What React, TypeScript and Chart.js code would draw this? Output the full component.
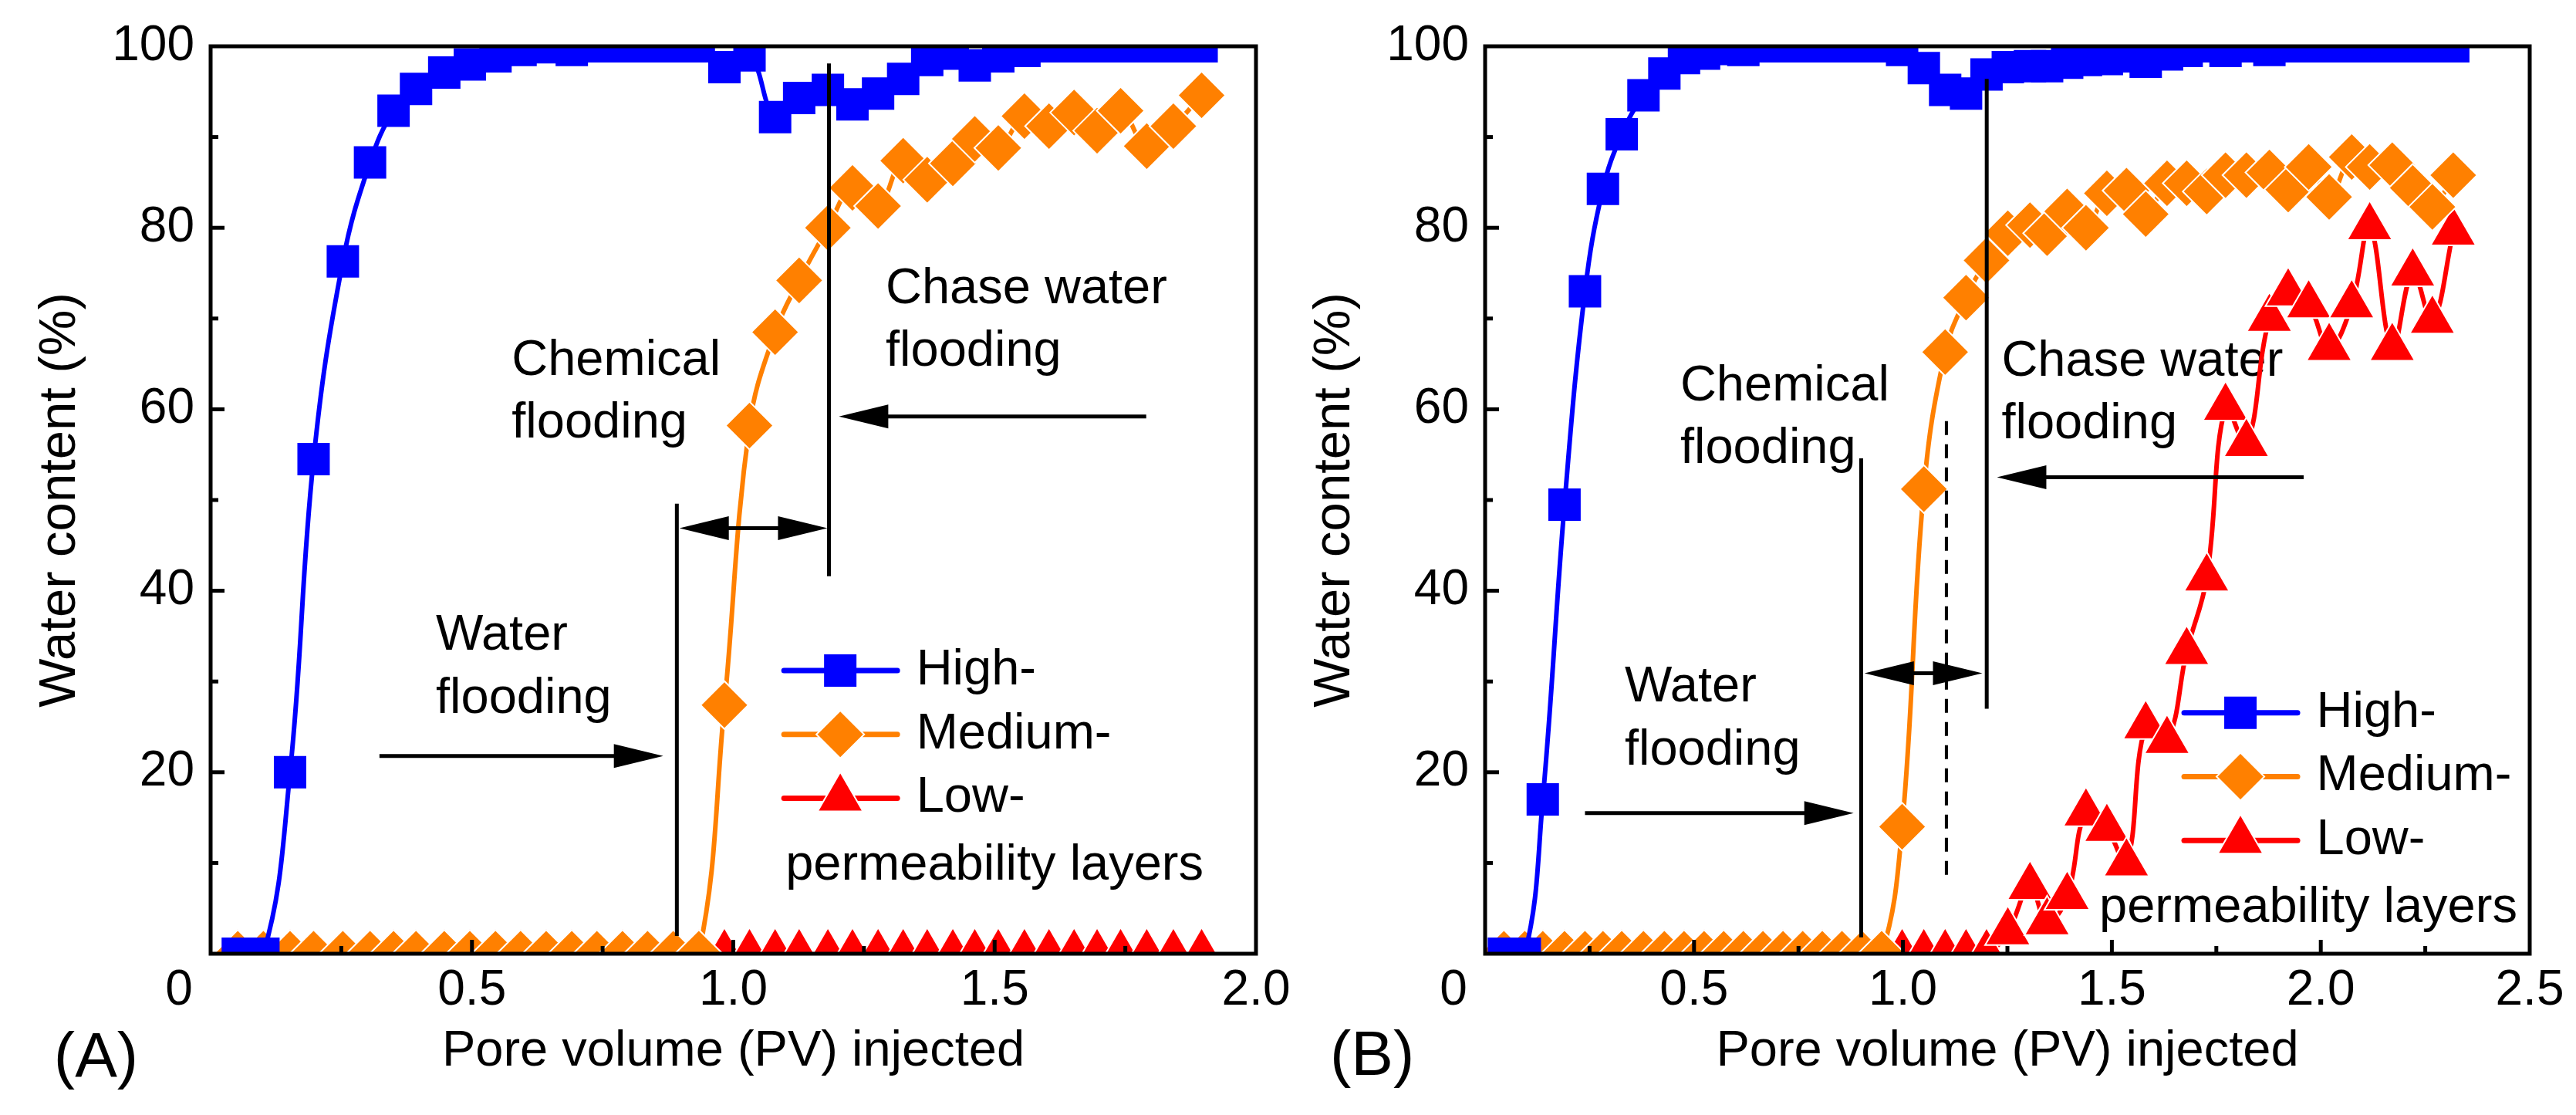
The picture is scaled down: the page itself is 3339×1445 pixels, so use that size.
import React, { useEffect, useRef } from 'react';
import { Chart, registerables } from 'chart.js';

Chart.register(...registerables);

const FONT = '"Liberation Sans", Arial, Helvetica, sans-serif';
const BLUE = '#0000FF';
const ORANGE = '#FF8000';
const RED = '#FF0000';

// ---------------- data ----------------
const SERIES_NAMES = ['High-', 'Medium-', 'Low-'];
const LEGEND_CAPTION = 'permeability layers';
const PANEL_LABELS = ['(A)', '(B)'];
const X_TITLE = 'Pore volume (PV) injected';
const Y_TITLE = 'Water content (%)';
const Y_TICKS = [0, 20, 40, 60, 80, 100];
const X_TICKS_A = [0, 0.5, 1.0, 1.5, 2.0];
const X_TICKS_B = [0, 0.5, 1.0, 1.5, 2.0, 2.5];

const PV_A = [0.052, 0.101, 0.152, 0.197, 0.253, 0.305, 0.350, 0.393, 0.447, 0.496, 0.545, 0.593, 0.642, 0.691, 0.739, 0.788, 0.836, 0.885, 0.934, 0.983, 1.031, 1.080, 1.126, 1.181, 1.228, 1.277, 1.325, 1.371, 1.420, 1.462, 1.507, 1.557, 1.604, 1.652, 1.696, 1.741, 1.791, 1.842, 1.896];
const HIGH_A = [0, 0, 20.0, 54.5, 76.3, 87.2, 92.9, 95.3, 97.1, 98.0, 98.9, 99.6, 99.9, 99.6, 100, 100, 100, 100, 100, 97.7, 99.0, 92.2, 94.3, 95.2, 93.6, 94.8, 96.4, 98.5, 99.2, 97.9, 98.9, 99.5, 100, 100, 100, 100, 100, 100, 100];
const MEDIUM_A = [0, 0, 0, 0, 0, 0, 0, 0, 0, 0, 0, 0, 0, 0, 0, 0, 0, 0, 0, 27.4, 58.2, 68.5, 74.2, 80.0, 84.4, 82.4, 87.4, 85.3, 87.1, 89.8, 88.8, 92.3, 91.2, 92.7, 90.7, 92.9, 89.0, 91.2, 94.6];
const LOW_A = [0, 0, 0, 0, 0, 0, 0, 0, 0, 0, 0, 0, 0, 0, 0, 0, 0, 0, 0, 0, 0, 0, 0, 0, 0, 0, 0, 0, 0, 0, 0, 0, 0, 0, 0, 0, 0, 0, 0];

const PV_B = [0.045, 0.095, 0.138, 0.190, 0.239, 0.282, 0.327, 0.379, 0.429, 0.476, 0.524, 0.571, 0.618, 0.665, 0.713, 0.760, 0.807, 0.854, 0.902, 0.949, 0.998, 1.050, 1.101, 1.151, 1.200, 1.251, 1.304, 1.345, 1.393, 1.438, 1.488, 1.535, 1.581, 1.632, 1.679, 1.727, 1.772, 1.822, 1.877, 1.922, 1.971, 2.020, 2.074, 2.117, 2.171, 2.220, 2.267, 2.317];
const HIGH_B = [0, 0, 17.0, 49.5, 73.0, 84.3, 90.3, 94.6, 97.0, 98.7, 99.2, 99.7, 99.6, 100, 100, 100, 100, 100, 100, 100, 99.6, 97.6, 95.2, 94.8, 96.9, 97.7, 97.8, 97.8, 98.2, 98.5, 98.6, 98.9, 98.3, 99.1, 99.5, 100, 99.5, 100, 99.6, 100, 100, 100, 100, 100, 100, 100, 100, 100];
const MEDIUM_B = [0, 0, 0, 0, 0, 0, 0, 0, 0, 0, 0, 0, 0, 0, 0, 0, 0, 0, 0, 0, 14.0, 51.2, 66.3, 72.3, 76.4, 79.4, 80.3, 79.4, 81.8, 80.0, 83.8, 84.1, 81.5, 84.9, 84.9, 84.0, 85.8, 85.8, 86.1, 84.2, 86.7, 83.4, 87.8, 86.7, 86.9, 84.4, 82.3, 85.8];
const LOW_B = [0, 0, 0, 0, 0, 0, 0, 0, 0, 0, 0, 0, 0, 0, 0, 0, 0, 0, 0, 0, 0, 0, 0, 0, 0, 2.4, 7.4, 3.5, 6.3, 15.5, 13.8, 10.0, 25.1, 23.5, 33.3, 41.4, 60.2, 56.2, 70.0, 72.8, 71.5, 66.8, 71.5, 80.1, 66.8, 75.0, 69.8, 79.5];

// ---------------- panel layout / annotations ----------------
const PANELS: any[] = [
  {
    id: 'A',
    label: PANEL_LABELS[0],
    labelPos: { x: 124.5, y: 1395 },
    xMax: 2.0,
    xTicks: X_TICKS_A,
    pv: PV_A, high: HIGH_A, medium: MEDIUM_A, low: LOW_A,
    padLeft: 0,
    padRight: 3339 - 1628,
    texts: [
      { x: 0.576, y: 63.8, lines: ['Chemical', 'flooding'] },
      { x: 1.2915, y: 71.7, lines: ['Chase water', 'flooding'] },
      { x: 0.431, y: 33.5, lines: ['Water', 'flooding'] },
    ],
    vlines: [
      { x: 0.892, y1: 1.96, y2: 49.6 },
      { x: 1.183, y1: 41.6, y2: 98.1 },
    ],
    arrows: [
      { y: 46.9, from: 0.897, to: 1.180, both: true },
      { y: 21.8, from: 0.323, to: 0.866 },
      { y: 59.2, from: 1.790, to: 1.202 },
    ],
    legend: { x: 1.091, y: 31.2, captionDx: 6 },
  },
  {
    id: 'B',
    label: PANEL_LABELS[1],
    labelPos: { x: 1778.6, y: 1393 },
    xMax: 2.5,
    xTicks: X_TICKS_B,
    pv: PV_B, high: HIGH_B, medium: MEDIUM_B, low: LOW_B,
    padLeft: 1652,
    padRight: 3339 - 3279,
    texts: [
      { x: 0.467, y: 61.0, lines: ['Chemical', 'flooding'] },
      { x: 1.236, y: 63.7, lines: ['Chase water', 'flooding'] },
      { x: 0.334, y: 27.8, lines: ['Water', 'flooding'] },
    ],
    vlines: [
      { x: 0.900, y1: 1.8, y2: 54.6 },
      { x: 1.104, y1: 8.7, y2: 58.8, dashed: true },
      { x: 1.2005, y1: 27.0, y2: 96.4 },
    ],
    arrows: [
      { y: 30.9, from: 0.908, to: 1.190, both: true },
      { y: 15.5, from: 0.239, to: 0.882 },
      { y: 52.5, from: 1.959, to: 1.225 },
    ],
    legend: { x: 1.6655, y: 26.55, captionDx: -106 },
  },
];

function drawMarker(ctx: any, shape: string, x: number, y: number, color: string) {
  ctx.save();
  ctx.fillStyle = color;
  ctx.beginPath();
  if (shape === 'rect') {
    ctx.rect(x - 21, y - 21, 42, 42);
    ctx.fill();
  } else if (shape === 'diamond') {
    const r = 31;
    ctx.moveTo(x, y - r); ctx.lineTo(x + r, y); ctx.lineTo(x, y + r); ctx.lineTo(x - r, y); ctx.closePath();
    ctx.fill();
    ctx.strokeStyle = '#fff'; ctx.lineWidth = 2; ctx.stroke();
  } else {
    const r = 34;
    const s = Math.sin((2 * Math.PI) / 3) * r;
    ctx.moveTo(x, y - r); ctx.lineTo(x + s, y + r / 2); ctx.lineTo(x - s, y + r / 2); ctx.closePath();
    ctx.fill();
    ctx.strokeStyle = '#fff'; ctx.lineWidth = 2; ctx.stroke();
  }
  ctx.restore();
}

function arrowHead(ctx: any, tipX: number, y: number, dir: number) {
  const L = 64, W = 15.5;
  ctx.beginPath();
  ctx.moveTo(tipX, y);
  ctx.lineTo(tipX - dir * L, y - W);
  ctx.lineTo(tipX - dir * L, y + W);
  ctx.closePath();
  ctx.fill();
}

function makeDecor(cfg: any) {
  return {
    id: 'decor' + cfg.id,
    beforeDatasetsDraw(chart: any) {
      const { ctx, scales } = chart;
      const xs = scales.x, ys = scales.y;
      ctx.save();
      ctx.fillStyle = '#000';
      ctx.font = `65px ${FONT}`;
      ctx.textAlign = 'left';
      ctx.textBaseline = 'alphabetic';
      cfg.texts.forEach((t: any) => {
        const px = xs.getPixelForValue(t.x);
        const py = ys.getPixelForValue(t.y);
        t.lines.forEach((line: string, i: number) => ctx.fillText(line, px, py + i * 81.5));
      });
      ctx.restore();
    },
    afterDatasetsDraw(chart: any) {
      const { ctx, chartArea: ca, scales } = chart;
      const xs = scales.x, ys = scales.y;
      ctx.save();
      ctx.strokeStyle = '#000';
      ctx.fillStyle = '#000';
      ctx.lineCap = 'butt';
      // vertical phase lines
      cfg.vlines.forEach((v: any) => {
        const px = xs.getPixelForValue(v.x);
        ctx.lineWidth = v.dashed ? 4 : 5;
        ctx.setLineDash(v.dashed ? [18, 12] : []);
        ctx.beginPath();
        ctx.moveTo(px, ys.getPixelForValue(v.y1));
        ctx.lineTo(px, ys.getPixelForValue(v.y2));
        ctx.stroke();
      });
      ctx.setLineDash([]);
      // arrows
      cfg.arrows.forEach((a: any) => {
        const py = ys.getPixelForValue(a.y);
        const x0 = xs.getPixelForValue(a.from);
        const x1 = xs.getPixelForValue(a.to);
        const dir = x1 > x0 ? 1 : -1;
        ctx.lineWidth = 5;
        ctx.beginPath();
        ctx.moveTo(a.both ? x0 + dir * 50 : x0, py);
        ctx.lineTo(x1 - dir * 50, py);
        ctx.stroke();
        arrowHead(ctx, x1, py, dir);
        if (a.both) arrowHead(ctx, x0, py, -dir);
      });
      // frame
      ctx.lineWidth = 5;
      ctx.strokeRect(ca.left, ca.top, ca.right - ca.left, ca.bottom - ca.top);
      // inward ticks
      ctx.lineWidth = 5;
      const xt = cfg.xTicks;
      const step = xt[1] - xt[0];
      xt.forEach((v: number) => {
        if (v > 0 && v < cfg.xMax) {
          const px = xs.getPixelForValue(v);
          ctx.beginPath(); ctx.moveTo(px, ca.bottom); ctx.lineTo(px, ca.bottom - 18); ctx.stroke();
        }
        const m = v + step / 2;
        if (m < cfg.xMax) {
          const px = xs.getPixelForValue(m);
          ctx.beginPath(); ctx.moveTo(px, ca.bottom); ctx.lineTo(px, ca.bottom - 10); ctx.stroke();
        }
      });
      Y_TICKS.forEach((v: number, i: number) => {
        if (v > 0 && v < 100) {
          const py = ys.getPixelForValue(v);
          ctx.beginPath(); ctx.moveTo(ca.left, py); ctx.lineTo(ca.left + 18, py); ctx.stroke();
        }
        if (i < Y_TICKS.length - 1) {
          const py = ys.getPixelForValue((v + Y_TICKS[i + 1]) / 2);
          ctx.beginPath(); ctx.moveTo(ca.left, py); ctx.lineTo(ca.left + 10, py); ctx.stroke();
        }
      });
      // legend
      const lx = xs.getPixelForValue(cfg.legend.x);
      const ly = ys.getPixelForValue(cfg.legend.y);
      const rows = [
        { color: BLUE, shape: 'rect' },
        { color: ORANGE, shape: 'diamond' },
        { color: RED, shape: 'tri' },
      ];
      const rowGap = 82.7;
      rows.forEach((r, i) => {
        const cy = ly + i * rowGap;
        ctx.strokeStyle = r.color;
        ctx.lineWidth = 7;
        ctx.lineCap = 'round';
        ctx.beginPath(); ctx.moveTo(lx + 4, cy); ctx.lineTo(lx + 151, cy); ctx.stroke();
        drawMarker(ctx, r.shape, lx + 77, cy, r.color);
        ctx.fillStyle = '#000';
        ctx.font = `65px ${FONT}`;
        ctx.textAlign = 'left';
        ctx.textBaseline = 'middle';
        ctx.fillText(SERIES_NAMES[i], lx + 175.5, cy);
      });
      ctx.fillStyle = '#000';
      ctx.font = `65px ${FONT}`;
      ctx.textAlign = 'left';
      ctx.textBaseline = 'alphabetic';
      ctx.fillText(LEGEND_CAPTION, lx + cfg.legend.captionDx, ly + 2 * rowGap + 106);
      // shifted "0" label of the x axis
      ctx.font = `64px ${FONT}`;
      ctx.textAlign = 'center';
      ctx.textBaseline = 'middle';
      ctx.fillText('0', xs.getPixelForValue(0) - 41, ca.bottom + 10 + 38.4);
      // panel label
      ctx.font = `82px ${FONT}`;
      ctx.textAlign = 'center';
      ctx.textBaseline = 'alphabetic';
      ctx.fillText(cfg.label, cfg.labelPos.x, cfg.labelPos.y);
      ctx.restore();
    },
  };
}

function Panel({ cfg }: { cfg: any }) {
  const ref = useRef<HTMLCanvasElement>(null);
  useEffect(() => {
    const canvas = ref.current;
    if (!canvas) return;
    const pts = (ys: number[]) => cfg.pv.map((x: number, i: number) => ({ x, y: ys[i] }));
    const chart = new Chart(canvas, {
      type: 'scatter',
      data: {
        datasets: [
          {
            label: SERIES_NAMES[0],
            data: pts(cfg.high),
            showLine: true,
            borderColor: BLUE,
            backgroundColor: BLUE,
            borderWidth: 6,
            tension: 0.4,
            pointStyle: 'rect',
            pointRadius: 29.7,
            pointHoverRadius: 29.7,
            pointBackgroundColor: BLUE,
            pointBorderWidth: 0,
          },
          {
            label: SERIES_NAMES[1],
            data: pts(cfg.medium),
            showLine: true,
            borderColor: ORANGE,
            backgroundColor: ORANGE,
            borderWidth: 6,
            tension: 0.4,
            pointStyle: 'rectRot',
            pointRadius: 31,
            pointHoverRadius: 31,
            pointBackgroundColor: ORANGE,
            pointBorderColor: '#ffffff',
            pointBorderWidth: 2,
          },
          {
            label: SERIES_NAMES[2],
            data: pts(cfg.low),
            showLine: true,
            borderColor: RED,
            backgroundColor: RED,
            borderWidth: 6,
            tension: 0.4,
            pointStyle: 'triangle',
            pointRadius: 34,
            pointHoverRadius: 34,
            pointBackgroundColor: RED,
            pointBorderColor: '#ffffff',
            pointBorderWidth: 2,
          },
        ],
      } as any,
      options: {
        responsive: false,
        animation: false,
        devicePixelRatio: 1,
        events: [],
        layout: { padding: { left: cfg.padLeft, right: cfg.padRight, top: 60, bottom: 0 } },
        plugins: { legend: { display: false }, tooltip: { enabled: false } },
        scales: {
          x: {
            type: 'linear',
            position: 'bottom',
            min: 0,
            max: cfg.xMax,
            grid: { display: false, drawTicks: false },
            border: { display: false },
            ticks: {
              font: { family: FONT, size: 64 },
              color: '#000',
              padding: 10,
              autoSkip: false,
              maxRotation: 0,
              minRotation: 0,
              callback: (v: any) => (Number(v) === 0 ? '' : Number(v).toFixed(1)),
            },
            afterBuildTicks: (s: any) => {
              s.ticks = cfg.xTicks.map((v: number) => ({ value: v }));
            },
            afterFit: (s: any) => {
              s.height = 209;
            },
            title: {
              display: true,
              text: X_TITLE,
              color: '#000',
              font: { family: FONT, size: 65 },
              padding: { top: 0, bottom: 43 },
            },
          },
          y: {
            type: 'linear',
            position: 'left',
            min: 0,
            max: 100,
            grid: { display: false, drawTicks: false },
            border: { display: false },
            ticks: {
              font: { family: FONT, size: 64 },
              color: '#000',
              padding: 21,
              autoSkip: false,
              callback: (v: any) => (Number(v) === 0 ? '' : String(v)),
            },
            afterBuildTicks: (s: any) => {
              s.ticks = Y_TICKS.map((v: number) => ({ value: v }));
            },
            afterFit: (s: any) => {
              s.width = 273;
            },
            title: {
              display: true,
              text: Y_TITLE,
              color: '#000',
              font: { family: FONT, size: 67 },
              padding: { top: 38, bottom: 0 },
            },
          },
        },
      } as any,
      plugins: [makeDecor(cfg)],
    });
    return () => chart.destroy();
  }, [cfg]);
  return (
    <canvas
      ref={ref}
      width={3339}
      height={1445}
      style={{ position: 'absolute', left: 0, top: 0, width: 3339, height: 1445 }}
    />
  );
}

export default function App() {
  return (
    <div style={{ position: 'absolute', left: 0, top: 0, width: 3339, height: 1445, background: '#fff', overflow: 'hidden' }}>
      <Panel cfg={PANELS[0]} />
      <Panel cfg={PANELS[1]} />
    </div>
  );
}
